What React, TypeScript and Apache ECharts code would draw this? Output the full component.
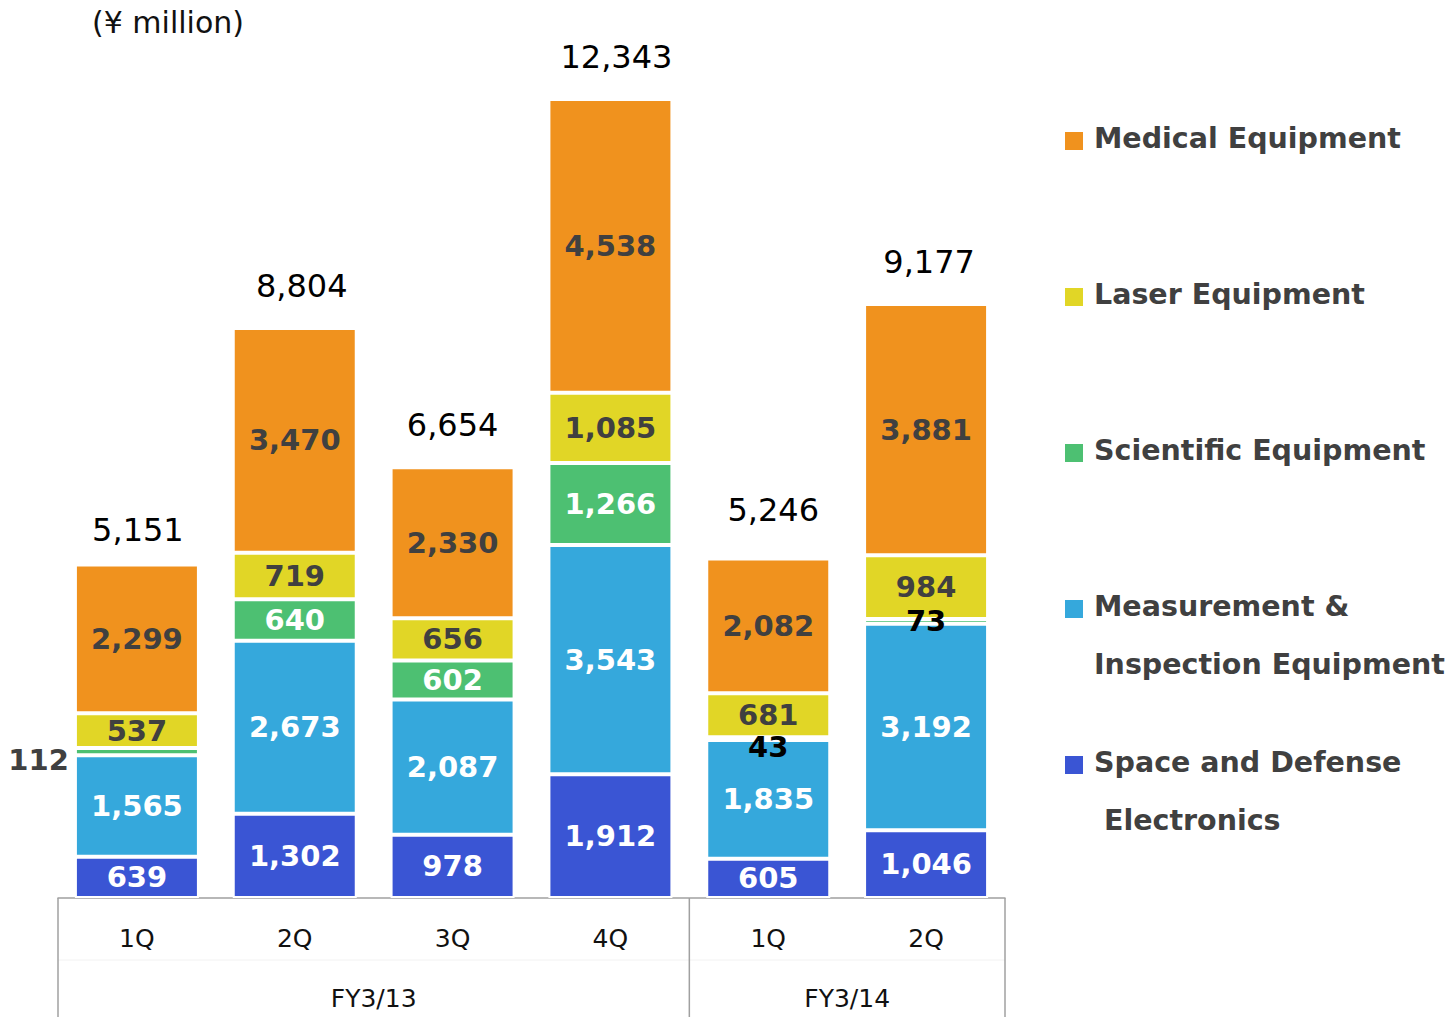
import React, { useEffect, useRef } from "react";
import * as echarts from "echarts";

const categories = ["FY3/13 1Q", "FY3/13 2Q", "FY3/13 3Q", "FY3/13 4Q", "FY3/14 1Q", "FY3/14 2Q"];
const quarterLabels = ["1Q", "2Q", "3Q", "4Q", "1Q", "2Q"];
const fiscalYears = ["FY3/13", "FY3/14"];
const fiscalYearSpans = [4, 2];

const spaceDefense = [639, 1302, 978, 1912, 605, 1046];
const measurement = [1565, 2673, 2087, 3543, 1835, 3192];
const scientific = [112, 640, 602, 1266, 43, 73];
const laser = [537, 719, 656, 1085, 681, 984];
const medical = [2299, 3470, 2330, 4538, 2082, 3881];
const totals = [5151, 8804, 6654, 12343, 5246, 9177];

const seriesNames = [
  "Space and Defense Electronics",
  "Measurement & Inspection Equipment",
  "Scientific Equipment",
  "Laser Equipment",
  "Medical Equipment",
];
const legendOrder = [4, 3, 2, 1, 0];
const legendLines = [
  ["Space and Defense", " Electronics"],
  ["Measurement &", "Inspection Equipment"],
  ["Scientific Equipment"],
  ["Laser Equipment"],
  ["Medical Equipment"],
];
const unitLabel = "(¥ million)";

const COLORS = ["#3A55D4", "#35A8DC", "#4DC072", "#E1D626", "#F0921E"];
const LABEL_COLORS = ["#ffffff", "#ffffff", "#ffffff", "#404040", "#404040"];
const FONT = "DejaVu Sans";

const fmt = (v: number) => v.toLocaleString("en-US");

export default function App() {
  const ref = useRef<HTMLDivElement>(null);
  useEffect(() => {
    document.body.style.margin = "0";
    const chart = echarts.init(ref.current!, null, { renderer: "svg" });
    const values = [spaceDefense, measurement, scientific, laser, medical];

    const smallLabelStyles: Record<number, any> = {
      0: { position: "left", distance: 6, color: "#404040", offset: [0, 8] },
      4: { color: "#000000", offset: [0, 8], lineHeight: 22 },
      5: { color: "#000000", offset: [0, 0] },
    };
    const totalOffsets = [[1, 8], [7, 0], [0, 0], [6, 0], [5, -6], [3, 0]];

    const barSeries = values.map((arr, si) => ({
      name: seriesNames[si],
      type: "bar",
      stack: "total",
      barWidth: 124,
      itemStyle: { color: COLORS[si], borderColor: "#ffffff", borderWidth: 2 },
      label: {
        show: true,
        position: "inside",
        formatter: (p: any) => fmt(p.value),
        fontFamily: FONT,
        fontWeight: "bold",
        fontSize: 29,
        color: LABEL_COLORS[si],
      },
      data: arr.map((v, i) =>
        si === 2 && smallLabelStyles[i]
          ? { value: v, label: smallLabelStyles[i] }
          : si === 3 && i === 4
          ? { value: v, label: { lineHeight: 26 } }
          : v
      ),
    }));

    const totalSeries = {
      name: "Total",
      type: "bar",
      stack: "total",
      barWidth: 124,
      itemStyle: { color: "transparent", borderWidth: 0 },
      label: {
        show: true,
        position: "top",
        distance: 26,
        formatter: (p: any) => fmt(totals[p.dataIndex]),
        fontFamily: FONT,
        fontSize: 32,
        color: "#000000",
      },
      data: totals.map((_, i) => ({ value: 0, label: { offset: totalOffsets[i] } })),
    };

    const H = 1017;
    const gridLeft = 58;
    const gridRight = 1005;
    const baseY = 898;
    const yMax = 13000;
    const topY = baseY - (799 * yMax) / 12343;

    chart.setOption({
      animation: false,
      textStyle: { fontFamily: FONT },
      grid: { left: gridLeft, right: 1454 - gridRight, top: topY, bottom: H - baseY, containLabel: false },
      xAxis: {
        type: "category",
        data: categories,
        axisLine: { show: true, lineStyle: { color: "#a0a0a0", width: 1.5 } },
        axisTick: { show: false },
        axisLabel: {
          formatter: (_v: string, i: number) => quarterLabels[i],
          fontFamily: FONT,
          fontSize: 25,
          color: "#111111",
          margin: 28,
        },
      },
      yAxis: { type: "value", min: 0, max: yMax, show: false },
      series: [...barSeries, totalSeries],
    });

    const px = (i: number) => chart.convertToPixel({ xAxisIndex: 0 }, i) as number;
    const band = px(1) - px(0);
    const graphics: any[] = [];
    let start = 0;
    const boundaries: number[] = [px(0) - band / 2];
    fiscalYears.forEach((fy, gi) => {
      const end = start + fiscalYearSpans[gi] - 1;
      const x0 = px(start) - band / 2;
      const x1 = px(end) + band / 2;
      boundaries.push(x1);
      graphics.push({
        type: "text",
        x: (x0 + x1) / 2,
        y: 998,
        style: {
          text: fy,
          fontFamily: FONT,
          fontSize: 25,
          fill: "#111111",
          textAlign: "center",
          textVerticalAlign: "middle",
        },
      });
      start = end + 1;
    });
    graphics.push({
      type: "line",
      shape: { x1: boundaries[0], y1: 960, x2: boundaries[boundaries.length - 1], y2: 960 },
      style: { stroke: "#f2f2f2", lineWidth: 1 },
    });
    boundaries.forEach((bx) => {
      graphics.push({
        type: "line",
        shape: { x1: bx, y1: baseY, x2: bx, y2: H },
        style: { stroke: "#a0a0a0", lineWidth: 1.5 },
      });
    });

    graphics.push({
      type: "text",
      x: 92,
      y: 22,
      style: { text: unitLabel, fontFamily: FONT, fontSize: 30, fill: "#111111", textVerticalAlign: "middle" },
    });

    const legendY = [138, 294, 450, 606, 762];
    legendOrder.forEach((si, k) => {
      const y = legendY[k];
      graphics.push({
        type: "rect",
        shape: { x: 1065, y: y - 6, width: 18, height: 18 },
        style: { fill: COLORS[si] },
      });
      legendLines[si].forEach((line, li) => {
        graphics.push({
          type: "text",
          x: 1094,
          y: y + li * 58,
          style: {
            text: line,
            fontFamily: FONT,
            fontWeight: "bold",
            fontSize: 28.5,
            fill: "#404040",
            textVerticalAlign: "middle",
          },
        });
      });
    });

    chart.setOption({ graphic: graphics });

    return () => chart.dispose();
  }, []);
  return <div ref={ref} style={{ width: 1454, height: 1017 }} />;
}
